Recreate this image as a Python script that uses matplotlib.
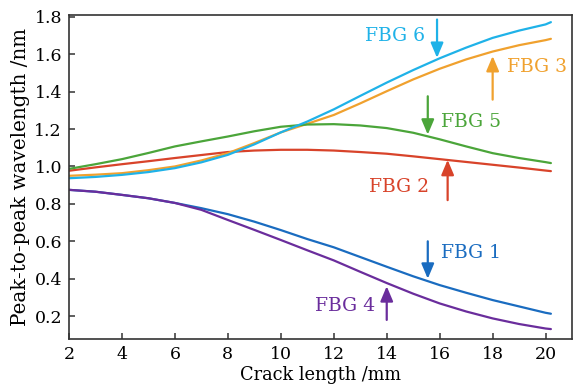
import matplotlib
matplotlib.use("Agg")
import matplotlib.pyplot as plt

# crack length (mm)
crack = [2, 3, 4, 5, 6, 7, 8, 9, 10, 11, 12, 13, 14, 15, 16, 17, 18, 19, 20, 20.2]

fbg1 = [0.875, 0.865, 0.848, 0.830, 0.805, 0.777, 0.745, 0.705, 0.660, 0.612,
        0.568, 0.516, 0.464, 0.413, 0.366, 0.325, 0.286, 0.252, 0.218, 0.213]
fbg2 = [0.977, 0.995, 1.012, 1.028, 1.045, 1.061, 1.077, 1.085, 1.089, 1.089,
        1.085, 1.077, 1.068, 1.054, 1.039, 1.024, 1.009, 0.994, 0.978, 0.975]
fbg3 = [0.950, 0.956, 0.964, 0.980, 1.000, 1.032, 1.071, 1.125, 1.182, 1.228,
        1.275, 1.337, 1.402, 1.465, 1.522, 1.572, 1.614, 1.648, 1.675, 1.682]
fbg4 = [0.875, 0.865, 0.848, 0.830, 0.805, 0.768, 0.714, 0.661, 0.607, 0.552,
        0.498, 0.437, 0.377, 0.320, 0.268, 0.225, 0.188, 0.158, 0.134, 0.131]
fbg5 = [0.987, 1.012, 1.039, 1.072, 1.107, 1.134, 1.160, 1.188, 1.212, 1.224,
        1.226, 1.219, 1.205, 1.180, 1.145, 1.107, 1.071, 1.045, 1.023, 1.018]
fbg6 = [0.937, 0.944, 0.955, 0.970, 0.991, 1.022, 1.062, 1.118, 1.182, 1.240,
        1.305, 1.377, 1.448, 1.515, 1.578, 1.635, 1.687, 1.726, 1.759, 1.771]

names = ["FBG 1", "FBG 2", "FBG 3", "FBG 4", "FBG 5", "FBG 6"]
series = [fbg1, fbg2, fbg3, fbg4, fbg5, fbg6]
colors = ["#1a6cc0", "#d8432a", "#f0a12e", "#6a2d9c", "#4ba53a", "#1fb2e8"]

# arrow: x, y start, y tip ; label: x, y, alignment
arrows = [(15.55, 0.60, 0.40), (16.3, 0.82, 1.035), (18.0, 1.357, 1.59),
          (14.0, 0.18, 0.36), (15.55, 1.375, 1.17), (15.9, 1.785, 1.58)]
labels = [(16.05, 0.535, "left"), (15.6, 0.89, "right"), (18.55, 1.53, "left"),
          (13.55, 0.255, "right"), (16.05, 1.235, "left"), (15.45, 1.695, "right")]

plt.rcParams["font.family"] = ["DejaVu Serif"]
plt.rcParams["mathtext.fontset"] = "dejavuserif"

fig = plt.figure(figsize=(5.73, 3.91), dpi=100)
ax = fig.add_axes([0.1204, 0.133, 0.878, 0.829])

for name, ys, c in zip(names, series, colors):
    ax.plot(crack, ys, color=c, lw=1.6, solid_capstyle="round")

for (ax_x, y0, y1), (tx, ty, ha), c, name in zip(arrows, labels, colors, names):
    ax.annotate("", xy=(ax_x, y1), xytext=(ax_x, y0),
                arrowprops=dict(arrowstyle="-|>,head_length=0.9,head_width=0.38",
                                color=c, lw=1.6, shrinkA=0, shrinkB=0))
    ax.text(tx, ty, name, color=c, fontsize=13.5, ha=ha, va="center")

ax.set_xlim(2, 21)
ax.set_ylim(0.078, 1.81)
ax.set_xticks(range(2, 21, 2))
ax.set_yticks([0.2, 0.4, 0.6, 0.8, 1.0, 1.2, 1.4, 1.6, 1.8])
ax.set_yticklabels(["0.2", "0.4", "0.6", "0.8", "1.0", "1.2", "1.4", "1.6", "1.8"])
ax.tick_params(direction="in", length=4, width=1.1, labelsize=12.5,
               color="#333333", pad=5)
for s in ax.spines.values():
    s.set_color("#333333")
    s.set_linewidth(1.2)

ax.set_xlabel("Crack length /mm", fontsize=12.8, labelpad=2)
ax.set_ylabel("Peak-to-peak wavelength /nm", fontsize=14.3, labelpad=3)

fig.savefig("out.png", dpi=100)
